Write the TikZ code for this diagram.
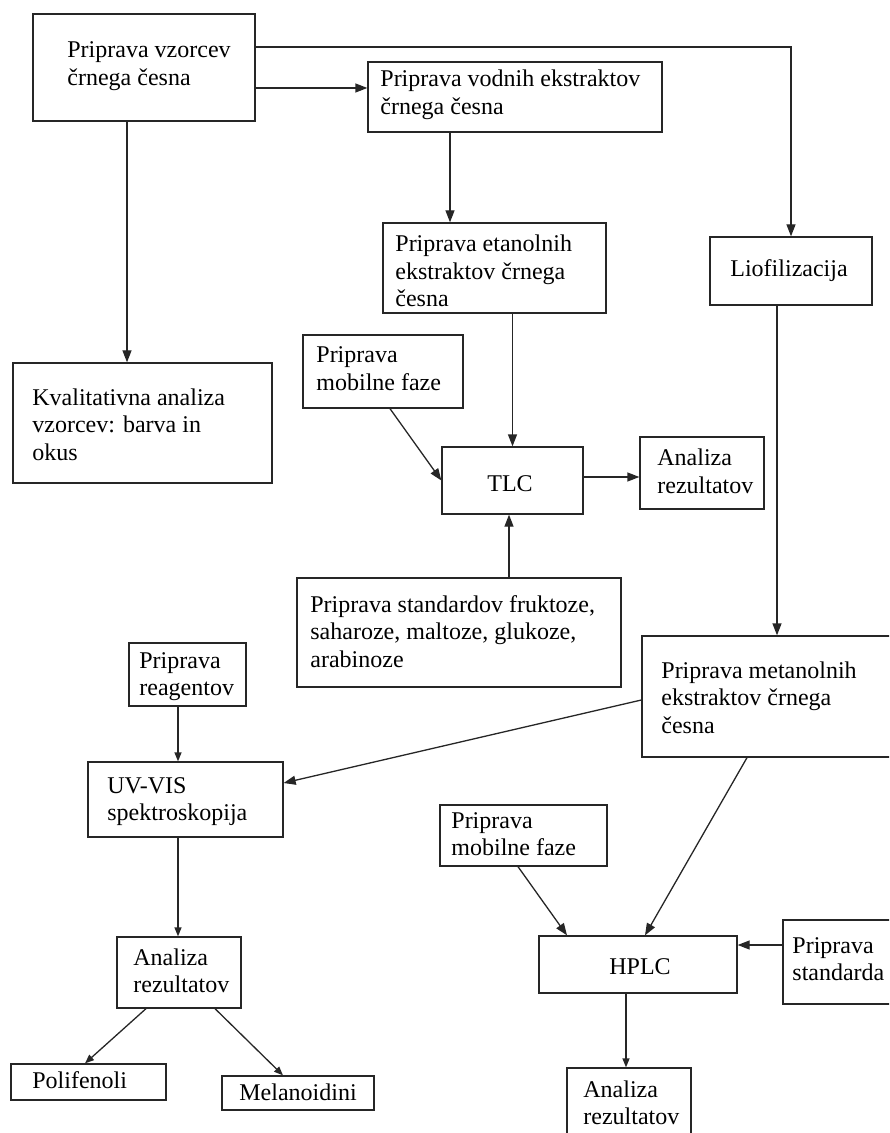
\documentclass[tikz,border=0pt]{standalone}
\usepackage{fontspec}
\setmainfont{Liberation Serif}
\usetikzlibrary{arrows.meta,calc}
\tikzset{
  box/.style={draw=black!85, line width=0.65pt, inner sep=0pt, rectangle},
  txt/.style={anchor=base west, inner sep=0pt, align=left, text=black,
              font=\fontsize{12}{13.75}\selectfont},
  arr/.style={draw=black!85, line width=0.65pt, -{Triangle[length=6pt,width=4.5pt]}},
  arrs/.style={draw=black!85, line width=0.65pt, -{Triangle[length=4.5pt,width=3.5pt]}}
}
\begin{document}
\begin{tikzpicture}[x=0.5pt,y=-0.5pt]
\useasboundingbox (0,0) rectangle (889,1133);
\clip (0,0) rectangle (889,1133);
% boxes
\node[box, minimum width=111pt, minimum height=53.5pt] (A) at (144,67.5) {};
\node[box, minimum width=147pt, minimum height=35pt] (B) at (515,97) {};
\node[box, minimum width=111.5pt, minimum height=45pt] (E) at (494.5,268) {};
\node[box, minimum width=81pt, minimum height=34pt] (L) at (791,271) {};
\node[box, minimum width=129.5pt, minimum height=60pt] (K) at (142.5,423) {};
\node[box, minimum width=80pt, minimum height=36.5pt] (MF1) at (383,371.5) {};
\node[box, minimum width=70.5pt, minimum height=33.5pt] (TLC) at (512.5,480.5) {};
\node[box, minimum width=62pt, minimum height=36pt] (AR1) at (702,473) {};
\node[box, minimum width=162pt, minimum height=54.5pt] (S) at (459,632.5) {};
\node[box, minimum width=126.5pt, minimum height=60.5pt] (M) at (768.5,696.5) {};
\node[box, minimum width=58.5pt, minimum height=31.5pt] (R) at (187.5,674.5) {};
\node[box, minimum width=97.5pt, minimum height=37.5pt] (UV) at (185.5,799.5) {};
\node[box, minimum width=62pt, minimum height=35.5pt] (AR2) at (179,972.5) {};
\node[box, minimum width=77.5pt, minimum height=18pt] (P) at (88.5,1082) {};
\node[box, minimum width=76pt, minimum height=17pt] (Mel) at (298,1093) {};
\node[box, minimum width=83.5pt, minimum height=30.5pt] (MF2) at (523.5,835.5) {};
\node[box, minimum width=99pt, minimum height=28.5pt] (HPLC) at (638,964.5) {};
\node[box, minimum width=56pt, minimum height=42pt] (SD) at (839,962) {};
\node[box, minimum width=62pt, minimum height=36pt] (AR3) at (629,1104) {};
% texts (anchor = baseline of the last line)
\node[txt] (tA) at (67,85.5) {Priprava vzorcev\\črnega česna};
\node[txt] (tB) at (380,114.5) {Priprava vodnih ekstraktov\\črnega česna};
\node[txt] (tE) at (395,307) {Priprava etanolnih\\ekstraktov črnega\\česna};
\node[txt] (tL) at (730,277) {Liofilizacija};
\node[txt] (tK) at (32,460) {Kvalitativna analiza\\vzorcev: barva in\\okus};
\node[txt] (tMF1) at (316,390.5) {Priprava\\mobilne faze};
\node[txt] (tTLC) at (487,491) {TLC};
\node[txt] (tAR1) at (657,493.5) {Analiza\\rezultatov};
\node[txt] (tS) at (310,667) {Priprava standardov fruktoze,\\saharoze, maltoze, glukoze,\\arabinoze};
\node[txt] (tM) at (661,733) {Priprava metanolnih\\ekstraktov črnega\\česna};
\node[txt] (tR) at (139,695.5) {Priprava\\reagentov};
\node[txt] (tUV) at (107,820.5) {UV-VIS\\spektroskopija};
\node[txt] (tAR2) at (133,992.5) {Analiza\\rezultatov};
\node[txt] (tP) at (32,1088) {Polifenoli};
\node[txt] (tMel) at (239,1100) {Melanoidini};
\node[txt] (tMF2) at (451,855.5) {Priprava\\mobilne faze};
\node[txt] (tHPLC) at (609,974) {HPLC};
\node[txt] (tSD) at (792,980.5) {Priprava\\standarda};
\node[txt] (tAR3) at (583,1124.5) {Analiza\\rezultatov};
% connectors
\draw[arr] ([yshift=-10.25pt]A.east) -- ([yshift=-10.25pt]A.east -| B.west);
\draw[arr] ([yshift=10.25pt]A.east) -| (L.north);
\draw[arr] ([xshift=-8.5pt]A.south) -- ([xshift=-8.5pt]A.south |- K.north);
\draw[arr] ([xshift=-32.5pt]B.south) -- ([xshift=-32.5pt]B.south |- E.north);
\draw[arr] (TLC.north |- E.south) -- (TLC.north);
\draw[arr] ([xshift=3.5pt]MF1.south) -- (TLC.west);
\draw[arr] ([yshift=1.75pt]TLC.east) -- ([yshift=1.75pt]TLC.east -| AR1.west);
\draw[arr] ([xshift=-1.75pt]TLC.south |- S.north) -- ([xshift=-1.75pt]TLC.south);
\draw[arr] ([xshift=-7pt]L.south) -- ([xshift=-7pt]L.south |- M.north);
\draw[arr] ([yshift=-1.75pt]M.west) -- ([yshift=8.25pt]UV.east);
\draw[arrs] ([xshift=-4.75pt]R.south) -- ([xshift=-4.75pt]R.south |- UV.north);
\draw[arrs] ([xshift=-0.5pt]AR2.north |- UV.south) -- ([xshift=-0.5pt]AR2.north);
\draw[arrs] ([xshift=-16.5pt]AR2.south) -- ([xshift=-1.75pt]P.north);
\draw[arrs] ([xshift=18pt]AR2.south) -- ([xshift=-7.5pt]Mel.north);
\draw[arr] ([xshift=-10.75pt]M.south) -- ([xshift=3.5pt]HPLC.north);
\draw[arr] ([xshift=-2.75pt]MF2.south) -- ([xshift=-35.5pt]HPLC.north);
\draw[arr] ([yshift=8.5pt]SD.west) -- ([yshift=8.5pt]SD.west -| HPLC.east);
\draw[arrs] ([xshift=-6pt]HPLC.south) -- ([xshift=-6pt]HPLC.south |- AR3.north);
\end{tikzpicture}
\end{document}
